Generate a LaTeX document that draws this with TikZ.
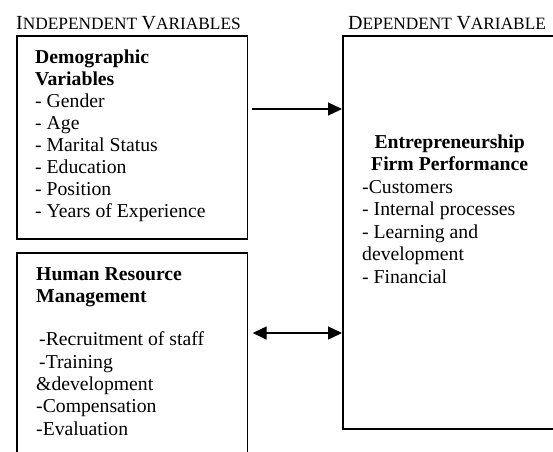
\documentclass[tikz,border=0pt]{standalone}
\usepackage{fontspec}
\setmainfont{Liberation Serif}
\usetikzlibrary{arrows.meta}
\newcommand\scword[2]{{\fontsize{20}{24}\selectfont #1}{\fontsize{17.3}{20}\selectfont #2}}
\begin{document}
\begin{tikzpicture}[x=1pt,y=-1pt,
  boxframe/.style={draw, line width=1.7pt, rectangle, inner sep=0pt, anchor=north west},
  bodytext/.style={anchor=north west, inner sep=0pt, align=left},
  headlabel/.style={anchor=base west, inner sep=0pt},
  link/.style={line width=1.4pt, -{Triangle[length=14pt,width=13pt]}},
  twoway/.style={line width=1.4pt, {Triangle[length=14pt,width=13pt]}-{Triangle[length=14pt,width=13pt]}}]
\useasboundingbox (0,0) rectangle (553,451);
\clip (0,0) rectangle (553,451);
% boxes
\node[boxframe, minimum width=230.5pt, minimum height=203pt] (demo) at (16,35) {};
\node[boxframe, minimum width=230.5pt, minimum height=240pt] (hrm) at (16,252) {};
\node[boxframe, minimum width=240pt, minimum height=393pt] (perf) at (342,35) {};
% headings
\node[headlabel] (indep) at (16,29) {\scword{I}{NDEPENDENT}\hspace{4.5pt}\scword{V}{ARIABLES}};
\node[headlabel] (dep) at (348,29) {\scword{D}{EPENDENT}\hspace{4.5pt}\scword{V}{ARIABLE}};
% texts
\node[bodytext, font=\fontsize{19.7}{22}\selectfont] (demotext) at (35,48) {\rule{0pt}{15pt}\textbf{Demographic}\\ \textbf{Variables}\\ - Gender\\ - Age\\ - Marital Status\\ - Education\\ - Position\\ - Years of Experience};
\node[bodytext, font=\fontsize{19.7}{22.4}\selectfont] (hrmtext) at (36,265) {\rule{0pt}{15pt}\textbf{Human Resource}\\ \textbf{Management}\\[20.6pt] \hspace*{3pt}-Recruitment of staff\\ \hspace*{3pt}-Training\\ \&development\\ -Compensation\\ -Evaluation};
\node[bodytext, font=\fontsize{19.7}{22.5}\selectfont] (perftext) at (362,133) {\rule{0pt}{15pt}\makebox[175pt]{\textbf{Entrepreneurship}}\\ \makebox[175pt]{\textbf{Firm Performance}}\\ -Customers\\ - Internal processes\\ - Learning and\\ development\\ - Financial};
% connectors
\coordinate (ya) at (0,109);
\coordinate (yb) at (0,333);
\draw[link, shorten <=4pt] (demo.east |- ya) -- (perf.west |- ya);
\draw[twoway, shorten <=4.5pt] (hrm.east |- yb) -- (perf.west |- yb);
\end{tikzpicture}
\end{document}
